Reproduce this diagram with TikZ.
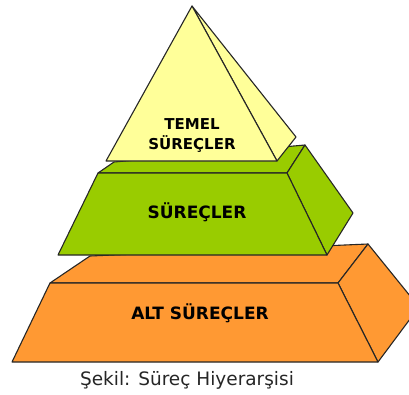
\documentclass[tikz,border=0pt]{standalone}
\usepackage{fontspec}
\setmainfont{DejaVu Sans}
\begin{document}
\begin{tikzpicture}[x=1pt,y=-1pt,
  face/.style={draw=black!85, line width=1.1pt, line join=round},
  label/.style={font=\bfseries, text=black, align=center, inner sep=0pt},
  yellowface/.style={face, fill=tierA},
  greenface/.style={face, fill=tierB},
  orangeface/.style={face, fill=tierC}]
\definecolor{tierA}{HTML}{FFFF99}
\definecolor{tierB}{HTML}{99CC00}
\definecolor{tierC}{HTML}{FF9933}
\useasboundingbox (0,0) rectangle (409,394);
\clip (0,0) rectangle (409,394);

% bottom tier
\coordinate (c1) at (50,283);  \coordinate (c2) at (338,283);
\coordinate (c3) at (378,362); \coordinate (c4) at (12,362);
\coordinate (c5) at (90,256);  \coordinate (c6) at (368,244);
\coordinate (c7) at (419,307);
\draw[orangeface] (c1) -- (c5) -- (c6) -- (c2) -- cycle;
\draw[orangeface] (c2) -- (c6) -- (c7) -- (c3) -- cycle;
\draw[orangeface] (c1) -- (c2) -- (c3) -- (c4) -- cycle;

% middle tier
\coordinate (b1) at (98,173);  \coordinate (b2) at (287,173);
\coordinate (b3) at (327,255); \coordinate (b4) at (58,255);
\coordinate (b5) at (114,162); \coordinate (b6) at (305,145);
\coordinate (b7) at (353,213);
\draw[greenface] (b1) -- (b5) -- (b6) -- (b2) -- cycle;
\draw[greenface] (b2) -- (b6) -- (b7) -- (b3) -- cycle;
\draw[greenface] (b1) -- (b2) -- (b3) -- (b4) -- cycle;

% top tier
\coordinate (a0) at (192,6);
\coordinate (a1) at (106,161); \coordinate (a2) at (277,161);
\coordinate (a3) at (296,137);
\draw[yellowface] (a0) -- (a3) -- (a2) -- cycle;
\draw[yellowface] (a0) -- (a1) -- (a2) -- cycle;

% labels
\node[label, font=\bfseries\fontsize{15}{20}\selectfont] (top) at (192,135) {TEMEL\\SÜREÇLER};
\node[label, font=\bfseries\fontsize{17}{20}\selectfont] (mid) at (197,212) {SÜREÇLER};
\node[label, font=\bfseries\fontsize{17}{20}\selectfont] (low) at (200,313) {ALT SÜREÇLER};
\node[inner sep=0pt, text=black!85, font=\fontsize{18.5}{20}\selectfont] (cap) at (187,380) {Şekil: Süreç Hiyerarşisi};
\end{tikzpicture}
\end{document}
